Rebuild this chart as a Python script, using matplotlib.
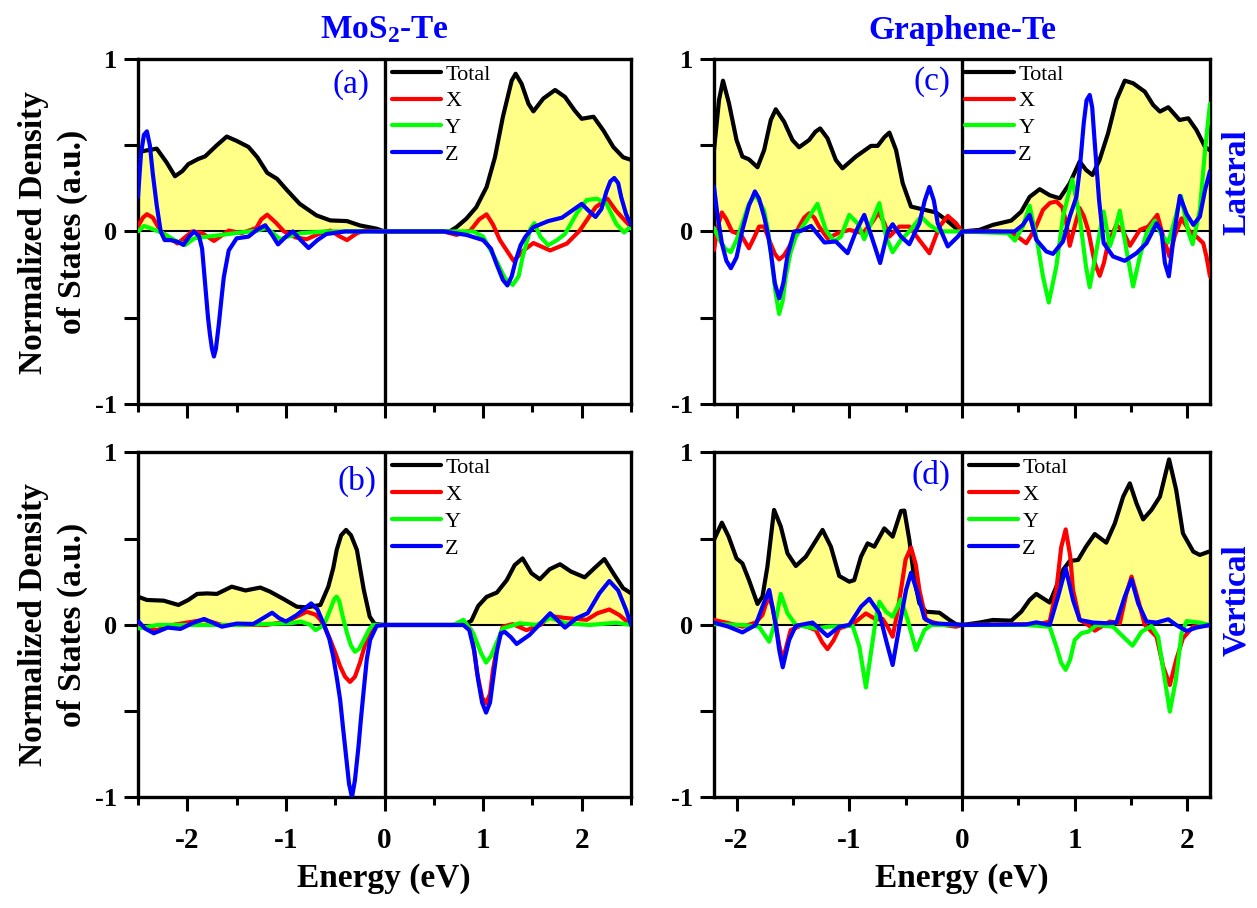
import numpy as np
import matplotlib
matplotlib.use('Agg')
import matplotlib.pyplot as plt
from matplotlib.ticker import MultipleLocator

plt.rcParams['font.family'] = 'Liberation Serif'
plt.rcParams['mathtext.fontset'] = 'custom'
plt.rcParams['mathtext.default'] = 'regular'
plt.rcParams['axes.unicode_minus'] = False

# ---- (a) MoS2-Te, lateral ----
a_tot_e = [-2.5, -2.41, -2.31, -2.21, -2.125, -2.05, -1.99, -1.89, -1.82, -1.7, -1.6, -1.5, -1.38, -1.29, -1.19, -1.09,
           -0.99, -0.86, -0.69, -0.55, -0.38, -0.25, -0.08, 0, 0.66, 0.73, 0.83, 0.93, 1.035, 1.12, 1.2, 1.29, 1.33,
           1.39, 1.46, 1.51, 1.61, 1.73, 1.83, 1.93, 2.0, 2.12, 2.22, 2.32, 2.42, 2.5]
a_tot = [0.46, 0.47, 0.48, 0.40, 0.32, 0.35, 0.39, 0.42, 0.435, 0.50, 0.55, 0.525, 0.49, 0.43, 0.34, 0.305,
         0.24, 0.16, 0.093, 0.064, 0.06, 0.035, 0.016, 0.0, 0.0, 0.025, 0.074, 0.14, 0.257, 0.43, 0.663, 0.875, 0.914,
         0.856, 0.74, 0.696, 0.77, 0.82, 0.78, 0.70, 0.653, 0.665, 0.585, 0.49, 0.43, 0.415]
a_x_e = [-2.5, -2.45, -2.41, -2.35, -2.27, -2.1, -1.95, -1.85, -1.73, -1.58, -1.45, -1.3, -1.25, -1.19, -1.1, -1.02,
         -0.9, -0.79, -0.65, -0.55, -0.45, -0.38, -0.28, -0.2, 0, 0.6, 0.73, 0.87, 0.96, 1.035, 1.1, 1.17, 1.31, 1.41,
         1.51, 1.68, 1.85, 1.98, 2.14, 2.26, 2.35, 2.5]
a_x = [0.03, 0.08, 0.1, 0.08, 0.0, -0.07, 0.0, -0.01, -0.055, 0.005, -0.01, 0.02, 0.07, 0.097, 0.05, 0.0,
       -0.035, -0.045, -0.01, 0.005, -0.03, -0.05, -0.01, 0.005, 0, 0, -0.02, 0.005, 0.07, 0.099, 0.04, -0.05, -0.171,
       -0.11, -0.067, -0.11, -0.07, 0.005, 0.14, 0.19, 0.118, 0.025]
a_y_e = [-2.5, -2.44, -2.38, -2.25, -2.1, -2.02, -1.93, -1.8, -1.65, -1.45, -1.29, -1.2, -1.13, -1.06, -0.98, -0.85,
         -0.6, 0, 0.6, 0.9, 1.0, 1.13, 1.22, 1.3, 1.36, 1.4, 1.48, 1.52, 1.58, 1.66, 1.75, 1.83, 1.95, 2.05, 2.15,
         2.25, 2.35, 2.43, 2.48, 2.5]
a_y = [0.0, 0.032, 0.02, -0.01, -0.06, -0.078, -0.04, -0.03, -0.02, -0.005, 0.005, 0.02, -0.01, -0.045, -0.03, -0.01,
       0.0, 0, 0, 0.0, -0.03, -0.165, -0.27, -0.31, -0.26, -0.15, 0.016, 0.048, -0.03, -0.08, -0.05, -0.015, 0.105,
       0.182, 0.19, 0.163, 0.044, -0.006, 0.02, 0.02]
a_z_e = [-2.5, -2.47, -2.44, -2.41, -2.38, -2.35, -2.31, -2.27, -2.23, -2.17, -2.1, -2.04, -1.98, -1.93, -1.88,
         -1.85, -1.82, -1.79, -1.77, -1.75, -1.73, -1.71, -1.68, -1.65, -1.63, -1.58, -1.5, -1.38, -1.3, -1.21, -1.14,
         -1.08, -1.0, -0.93, -0.85, -0.77, -0.68, -0.59, -0.4, 0, 0.6, 0.83, 1.0, 1.08, 1.13, 1.2, 1.246, 1.29, 1.33,
         1.38, 1.43, 1.51, 1.66, 1.8, 1.9, 2.0, 2.07, 2.14, 2.2, 2.25, 2.29, 2.33, 2.37, 2.4, 2.45, 2.5]
a_z = [0.2, 0.45, 0.56, 0.58, 0.5, 0.334, 0.15, 0.0, -0.05, -0.05, -0.06, -0.078, -0.03, 0.0, -0.03,
       -0.1, -0.3, -0.5, -0.6, -0.68, -0.725, -0.68, -0.535, -0.37, -0.265, -0.11, -0.04, -0.03, 0.007, 0.036, -0.02,
       -0.075, -0.03, 0.0, -0.05, -0.096, -0.05, -0.015, 0.0, 0, 0, -0.02, -0.05, -0.1, -0.18, -0.28, -0.313, -0.26,
       -0.17, -0.08, -0.03, 0.025, 0.06, 0.08, 0.12, 0.16, 0.12, 0.084, 0.13, 0.23, 0.29, 0.31, 0.28, 0.2, 0.1, 0.036]

# ---- (b) MoS2-Te, vertical ----
b_tot_e = [-2.5, -2.41, -2.24, -2.09, -1.99, -1.9, -1.8, -1.7, -1.55, -1.41, -1.26, -1.16, -1.02, -0.89, -0.79, -0.65,
           -0.57, -0.52, -0.485, -0.44, -0.39, -0.34, -0.28, -0.21, -0.15, -0.1, 0, 0.8, 0.88, 0.95, 1.035, 1.14,
           1.24, 1.32, 1.4, 1.49, 1.575, 1.675, 1.78, 1.89, 2.03, 2.13, 2.23, 2.32, 2.42, 2.5]
b_tot = [0.164, 0.145, 0.141, 0.116, 0.145, 0.18, 0.183, 0.18, 0.222, 0.2, 0.217, 0.193, 0.149, 0.106, 0.102, 0.116,
         0.222, 0.33, 0.435, 0.52, 0.551, 0.52, 0.435, 0.203, 0.048, 0.006, 0, 0, 0.024, 0.11, 0.163, 0.188,
         0.26, 0.347, 0.386, 0.3, 0.265, 0.323, 0.352, 0.31, 0.276, 0.33, 0.382, 0.3, 0.213, 0.184]
b_x_e = [-2.5, -2.31, -2.15, -1.83, -1.65, -1.2, -0.99, -0.85, -0.79, -0.7, -0.65, -0.6, -0.55, -0.5, -0.45, -0.4,
         -0.35, -0.3, -0.25, -0.2, -0.16, -0.1, 0, 0.7, 0.8, 0.88, 0.94, 0.99, 1.03, 1.07, 1.1, 1.15, 1.2, 1.3, 1.44,
         1.58, 1.68, 1.84, 2.05, 2.16, 2.28, 2.38, 2.5]
b_x = [0.0, -0.03, 0.0, 0.03, 0.0, 0.0, 0.02, 0.06, 0.077, 0.06, 0.03, -0.02, -0.087, -0.16, -0.24, -0.3,
       -0.33, -0.3, -0.22, -0.12, -0.068, 0.0, 0, 0, 0.02, -0.03, -0.28, -0.42, -0.454, -0.4, -0.26, -0.1, -0.01, 0.005,
       -0.03, 0.0, 0.052, 0.04, 0.03, 0.068, 0.09, 0.058, 0.0]
b_y_e = [-2.5, -2.3, -1.5, -0.95, -0.85, -0.75, -0.7, -0.64, -0.6, -0.55, -0.51, -0.485, -0.46, -0.42, -0.38, -0.34,
         -0.3, -0.26, -0.21, -0.16, -0.12, 0, 0.7, 0.8, 0.9, 0.98, 1.03, 1.08, 1.12, 1.2, 1.37, 1.54, 1.68, 1.84,
         2.08, 2.35, 2.5]
b_y = [-0.02, 0.0, 0.0, 0.01, 0.02, 0.0, -0.03, -0.01, 0.02, 0.09, 0.15, 0.164, 0.14, 0.04, -0.048, -0.12,
       -0.155, -0.14, -0.087, -0.03, 0.0, 0, 0, 0.03, -0.048, -0.164, -0.218, -0.18, -0.126, -0.02, 0.01, 0.0, 0.04,
       0.01, 0.0, 0.013, 0.0]
b_z_e = [-2.5, -2.43, -2.34, -2.2, -2.07, -1.95, -1.83, -1.65, -1.5, -1.33, -1.23, -1.14, -1.07, -1.0, -0.89, -0.8,
         -0.744, -0.68, -0.62, -0.56, -0.52, -0.48, -0.45, -0.42, -0.39, -0.36, -0.33, -0.3, -0.264, -0.24, -0.214,
         -0.18, -0.146, -0.08, 0, 0.8, 0.86, 0.91, 0.95, 0.99, 1.03, 1.07, 1.1, 1.14, 1.18, 1.22, 1.28, 1.34, 1.47,
         1.6, 1.68, 1.75, 1.83, 1.95, 2.06, 2.18, 2.28, 2.37, 2.45, 2.5]
b_z = [0.023, -0.02, -0.048, -0.015, -0.023, 0.01, 0.035, -0.01, 0.008, 0.006, 0.04, 0.071, 0.04, 0.02, 0.058, 0.1,
       0.125, 0.09, 0.01, -0.08, -0.183, -0.32, -0.434, -0.6, -0.76, -0.92, -0.999, -0.9, -0.705, -0.55, -0.396,
       -0.2, -0.087, -0.005, 0, 0, -0.03, -0.15, -0.32, -0.45, -0.508, -0.45, -0.32, -0.15, -0.048, -0.04, -0.07,
       -0.11, -0.058, 0.02, 0.068, 0.03, -0.015, 0.04, 0.068, 0.184, 0.255, 0.2, 0.087, 0.0]

# ---- (c) Graphene-Te, lateral ----
c_tot_e = [-2.2, -2.155, -2.12, -2.067, -2.0, -1.948, -1.89, -1.814, -1.755, -1.696, -1.652, -1.578, -1.504, -1.445,
           -1.356, -1.3, -1.258, -1.193, -1.119, -1.06, -0.941, -0.807, -0.748, -0.689, -0.644, -0.585, -0.526,
           -0.452, -0.348, -0.23, -0.141, -0.052, 0, 0.155, 0.274, 0.437, 0.526, 0.6, 0.689, 0.778, 0.867, 0.956,
           1.044, 1.1, 1.157, 1.22, 1.296, 1.37, 1.444, 1.518, 1.622, 1.696, 1.756, 1.83, 1.93, 2.007, 2.08, 2.156, 2.2]
c_tot = [0.47, 0.763, 0.874, 0.743, 0.53, 0.434, 0.418, 0.372, 0.472, 0.646, 0.708, 0.636, 0.53, 0.488,
         0.53, 0.578, 0.597, 0.54, 0.414, 0.366, 0.434, 0.496, 0.496, 0.546, 0.573, 0.472, 0.28,
         0.144, 0.128, 0.11, 0.067, 0.018, 0.0, 0.009, 0.038, 0.063, 0.115, 0.2, 0.245, 0.21, 0.192, 0.279,
         0.405, 0.357, 0.327, 0.414, 0.569, 0.762, 0.874, 0.859, 0.81, 0.733, 0.695, 0.72, 0.646, 0.656, 0.588, 0.49, 0.47]
c_x_e = [-2.2, -2.17, -2.13, -2.09, -2.04, -1.96, -1.89, -1.84, -1.8, -1.755, -1.71, -1.66, -1.622, -1.58, -1.533,
         -1.445, -1.4, -1.356, -1.31, -1.267, -1.193, -1.089, -1.0, -0.881, -0.8, -0.74, -0.69, -0.644, -0.556,
         -0.467, -0.378, -0.289, -0.2, -0.126, -0.052, 0, 0.155, 0.3, 0.452, 0.57, 0.644, 0.718, 0.78, 0.837, 0.89,
         0.926, 0.956, 1.0, 1.044, 1.08, 1.119, 1.178, 1.222, 1.26, 1.296, 1.37, 1.43, 1.49, 1.578, 1.652, 1.733,
         1.785, 1.84, 1.89, 1.948, 2.02, 2.08, 2.14, 2.17, 2.2]
c_x = [-0.107, 0.02, 0.11, 0.07, 0.0, -0.02, -0.097, -0.03, 0.028, 0.028, -0.05, -0.13, -0.162, -0.14, -0.09,
       0.028, 0.08, 0.105, 0.08, 0.028, -0.04, -0.007, 0.009, -0.01, 0.05, 0.11, 0.05, -0.03, 0.028,
       0.028, -0.05, -0.126, 0.028, 0.09, 0.047, 0.0, 0.0, 0.0, -0.01, -0.068, 0.009, 0.125, 0.165, 0.174, 0.14,
       0.047, -0.083, 0.03, 0.135, 0.09, 0.009, -0.183, -0.257, -0.18, -0.068, 0.038, 0.0, -0.083, 0.009, 0.028, 0.096,
       -0.03, -0.145, -0.02, 0.076, 0.0, -0.03, -0.068, -0.15, -0.26]
c_y_e = [-2.2, -2.15, -2.1, -2.05, -2.0, -1.948, -1.89, -1.83, -1.755, -1.72, -1.69, -1.655, -1.622, -1.59, -1.563,
         -1.52, -1.474, -1.385, -1.282, -1.208, -1.133, -1.074, -1.0, -0.926, -0.867, -0.807, -0.733, -0.674, -0.615,
         -0.541, -0.467, -0.363, -0.289, -0.2, 0, 0.407, 0.47, 0.54, 0.6, 0.67, 0.718, 0.77, 0.837, 0.896, 0.978,
         1.044, 1.1, 1.133, 1.193, 1.257, 1.311, 1.346, 1.4, 1.459, 1.518, 1.578, 1.637, 1.711, 1.77, 1.83, 1.889,
         1.942, 2.007, 2.046, 2.11, 2.156, 2.2]
c_y = [0.02, -0.05, -0.1, -0.12, -0.05, 0.047, 0.16, 0.214, 0.12, 0.0, -0.15, -0.35, -0.478, -0.4, -0.262,
       -0.12, -0.03, 0.057, 0.16, 0.009, -0.058, -0.03, 0.096, 0.047, -0.045, 0.047, 0.164, -0.03, -0.12,
       -0.048, 0.0, 0.086, 0.038, 0.0, 0.0, -0.01, -0.053, 0.03, 0.149, -0.068, -0.26, -0.412, -0.203, 0.086, 0.302,
       0.086, -0.203, -0.323, -0.107, 0.115, -0.087, -0.02, 0.12, -0.107, -0.319, -0.145, -0.01, 0.063, -0.02, -0.064,
       0.07, 0.206, 0.0, -0.074, 0.125, 0.47, 0.74]
c_z_e = [-2.2, -2.17, -2.13, -2.09, -2.05, -2.0, -1.948, -1.89, -1.837, -1.8, -1.755, -1.72, -1.696, -1.66, -1.622,
         -1.585, -1.548, -1.489, -1.43, -1.34, -1.22, -1.119, -1.015, -0.941, -0.867, -0.793, -0.726, -0.659, -0.615,
         -0.541, -0.467, -0.378, -0.33, -0.289, -0.25, -0.215, -0.126, -0.037, 0, 0.467, 0.54, 0.6, 0.659, 0.748,
         0.807, 0.896, 0.956, 1.015, 1.044, 1.08, 1.105, 1.133, 1.155, 1.178, 1.216, 1.257, 1.34, 1.444, 1.548, 1.637,
         1.726, 1.77, 1.8, 1.835, 1.88, 1.933, 1.993, 2.052, 2.11, 2.156, 2.2]
c_z = [0.26, 0.1, -0.068, -0.17, -0.213, -0.15, 0.009, 0.15, 0.232, 0.19, 0.086, -0.02, -0.12, -0.3, -0.388,
       -0.3, -0.14, 0.0, 0.003, 0.032, -0.064, -0.058, -0.126, 0.0, 0.096, -0.048, -0.183, 0.0, 0.042,
       -0.03, -0.074, 0.047, 0.18, 0.258, 0.18, 0.047, -0.087, -0.03, 0.0, 0.0, 0.038, 0.096, -0.048, -0.116,
       -0.13, -0.058, 0.086, 0.2, 0.357, 0.627, 0.76, 0.791, 0.72, 0.511, 0.182, -0.068, -0.145, -0.17, -0.126, -0.068,
       0.047, 0.0, -0.183, -0.26, -0.02, 0.206, 0.1, 0.038, 0.086, 0.24, 0.35]

# ---- (d) Graphene-Te, vertical ----
d_tot_e = [-2.2, -2.13, -2.07, -2.0, -1.948, -1.89, -1.814, -1.77, -1.726, -1.667, -1.607, -1.548, -1.474, -1.385,
           -1.237, -1.163, -1.089, -1.0, -0.956, -0.896, -0.837, -0.778, -0.689, -0.615, -0.541, -0.511, -0.467,
           -0.422, -0.378, -0.319, -0.2, -0.111, -0.052, 0, 0.156, 0.274, 0.437, 0.526, 0.6, 0.659, 0.718, 0.778,
           0.837, 0.896, 0.956, 1.03, 1.1, 1.178, 1.28, 1.356, 1.43, 1.489, 1.548, 1.607, 1.681, 1.756, 1.837, 1.9,
           1.96, 2.052, 2.11, 2.19, 2.2]
d_tot = [0.493, 0.593, 0.512, 0.386, 0.357, 0.261, 0.122, 0.164, 0.338, 0.667, 0.57, 0.415, 0.342, 0.396,
         0.551, 0.454, 0.284, 0.251, 0.26, 0.396, 0.473, 0.454, 0.56, 0.512, 0.661, 0.663, 0.493,
         0.261, 0.126, 0.077, 0.071, 0.029, 0.004, 0.0, 0.014, 0.029, 0.025, 0.077, 0.145, 0.18, 0.155, 0.13,
         0.222, 0.319, 0.371, 0.377, 0.454, 0.527, 0.477, 0.589, 0.744, 0.821, 0.705, 0.612, 0.667, 0.744, 0.96, 0.783,
         0.531, 0.425, 0.406, 0.425, 0.425]
d_x_e = [-2.2, -2.07, -1.948, -1.83, -1.77, -1.74, -1.71, -1.68, -1.65, -1.62, -1.59, -1.56, -1.52, -1.415, -1.296,
         -1.24, -1.193, -1.14, -1.089, -0.97, -0.852, -0.763, -0.704, -0.66, -0.615, -0.58, -0.541, -0.5, -0.452,
         -0.41, -0.378, -0.319, -0.2, -0.052, 0, 0.689, 0.778, 0.837, 0.88, 0.92, 0.96, 0.985, 1.044, 1.119, 1.178,
         1.311, 1.4, 1.459, 1.504, 1.563, 1.622, 1.726, 1.785, 1.844, 1.9, 1.96, 2.05, 2.2]
d_x = [0.029, 0.01, -0.01, 0.014, 0.058, 0.12, 0.164, 0.1, 0.0, -0.12, -0.203, -0.13, -0.03, 0.0, -0.03,
       -0.1, -0.14, -0.09, -0.02, 0.005, 0.067, 0.032, 0.035, -0.01, -0.068, 0.05, 0.203, 0.38, 0.449,
       0.35, 0.203, 0.029, 0.004, -0.01, 0.0, 0.005, 0.02, 0.203, 0.45, 0.554, 0.4, 0.203, 0.03, 0.0, -0.033,
       0.02, 0.01, 0.184, 0.28, 0.145, 0.0, -0.068, -0.242, -0.348, -0.203, -0.077, -0.01, 0.0]
d_y_e = [-2.2, -1.948, -1.8, -1.71, -1.65, -1.607, -1.548, -1.474, -1.296, -1.178, -0.97, -0.91, -0.852, -0.8, -0.76,
         -0.733, -0.674, -0.615, -0.541, -0.482, -0.408, -0.333, -0.274, 0, 0.57, 0.778, 0.837, 0.88, 0.92, 0.96,
         1.0, 1.059, 1.119, 1.193, 1.34, 1.43, 1.513, 1.593, 1.681, 1.74, 1.8, 1.844, 1.897, 1.948, 1.993, 2.11, 2.2]
d_y = [0.005, 0.0, -0.01, -0.097, 0.03, 0.18, 0.068, 0.0, -0.02, -0.01, -0.005, -0.126, -0.362, -0.126, 0.05,
       0.135, 0.077, 0.048, 0.148, 0.03, -0.145, -0.03, 0.0, 0.0, 0.0, -0.01, -0.126, -0.22, -0.26, -0.2,
       -0.087, -0.048, -0.039, 0.0, -0.01, -0.068, -0.12, -0.039, -0.006, -0.068, -0.319, -0.502, -0.319, -0.048,
       0.023, 0.013, 0.0]
d_z_e = [-2.2, -2.07, -1.948, -1.83, -1.77, -1.71, -1.68, -1.65, -1.62, -1.59, -1.56, -1.533, -1.474, -1.326, -1.193,
         -1.089, -1.0, -0.896, -0.822, -0.733, -0.674, -0.615, -0.556, -0.496, -0.452, -0.393, -0.333, -0.259, 0,
         0.57, 0.659, 0.778, 0.852, 0.92, 0.985, 1.044, 1.163, 1.28, 1.37, 1.444, 1.504, 1.563, 1.637, 1.726, 1.83,
         1.9, 1.993, 2.08, 2.2]
d_z = [0.014, -0.01, -0.043, 0.0, 0.106, 0.203, 0.1, -0.01, -0.15, -0.245, -0.16, -0.087, -0.005, 0.014, -0.064,
       -0.01, 0.0, 0.106, 0.152, 0.068, -0.087, -0.232, -0.01, 0.203, 0.303, 0.184, 0.038, 0.01, 0.0,
       0.003, 0.015, 0.0, 0.164, 0.329, 0.145, 0.029, 0.014, 0.01, 0.014, 0.164, 0.264, 0.125, 0.02, 0.014, 0.033,
       0.0, -0.035, -0.015, 0.0]

names = ['Total', 'X', 'Y', 'Z']
colors = ['black', '#ff0000', '#00ff00', '#0000ff']
label_blue = '#0000ff'


def draw_panel(ax, curves, xmax, tag, tag_xy, leg_x):
    tot_e, tot_v = curves[0]
    ax.fill_between(tot_e, tot_v, 0, color='#ffff88', lw=0, zorder=1)
    ax.axhline(0, color='black', lw=1.5, zorder=2)
    ax.axvline(0, color='black', lw=2.4, zorder=2)
    for (e, v), c, n in zip(curves, colors, names):
        ax.plot(e, v, color=c, lw=3.0, label=n, zorder=3, solid_joinstyle='round', solid_capstyle='round')

    ax.set_xlim(-xmax, xmax)
    ax.set_ylim(-1, 1)
    ax.set_yticks([-1, -0.5, 0, 0.5, 1])
    ax.set_yticklabels(['-1', '', '0', '', '1'])
    ax.xaxis.set_major_locator(MultipleLocator(1))
    ax.xaxis.set_minor_locator(MultipleLocator(0.5))
    ax.tick_params(axis='both', which='major', direction='out', length=10, width=2.2)
    ax.tick_params(axis='x', which='minor', direction='out', length=6, width=2.2)
    ax.tick_params(axis='y', labelsize=19, pad=5)
    ax.tick_params(axis='x', labelsize=21, pad=11)
    for lab in ax.get_xticklabels() + ax.get_yticklabels():
        lab.set_fontweight('bold')
    for s in ax.spines.values():
        s.set_linewidth(2.4)

    ax.text(tag_xy[0], tag_xy[1], tag, transform=ax.transAxes, ha='center', va='center',
            fontsize=24, color=label_blue)
    ax.legend(loc='upper left', bbox_to_anchor=(leg_x, 0.985), frameon=False, fontsize=16,
              handlelength=2.2, handletextpad=0.2, labelspacing=0.28, borderpad=0, borderaxespad=0)


fig = plt.figure(figsize=(12.57, 9.08), dpi=100)
ax_a = fig.add_axes([0.1098, 0.5551, 0.3922, 0.3800])
ax_b = fig.add_axes([0.1098, 0.1217, 0.3922, 0.3800])
ax_c = fig.add_axes([0.5680, 0.5551, 0.3946, 0.3800])
ax_d = fig.add_axes([0.5680, 0.1217, 0.3946, 0.3800])

draw_panel(ax_a, [(a_tot_e, a_tot), (a_x_e, a_x), (a_y_e, a_y), (a_z_e, a_z)], 2.5, '(a)', (0.433, 0.925), 0.515)
draw_panel(ax_b, [(b_tot_e, b_tot), (b_x_e, b_x), (b_y_e, b_y), (b_z_e, b_z)], 2.5, '(b)', (0.444, 0.915), 0.515)
draw_panel(ax_c, [(c_tot_e, c_tot), (c_x_e, c_x), (c_y_e, c_y), (c_z_e, c_z)], 2.2, '(c)', (0.44, 0.934), 0.506)
draw_panel(ax_d, [(d_tot_e, d_tot), (d_x_e, d_x), (d_y_e, d_y), (d_z_e, d_z)], 2.2, '(d)', (0.438, 0.935), 0.514)

# only bottom row carries tick labels on x
ax_a.tick_params(axis='x', labelbottom=False)
ax_c.tick_params(axis='x', labelbottom=False)

W, H = 1257.0, 908.0
fig.text(384 / W, 1 - 30 / H, 'MoS$_2$-Te', ha='center', va='center', fontsize=24,
         fontweight='bold', color=label_blue)
fig.text(962 / W, 1 - 30 / H, 'Graphene-Te', ha='center', va='center', fontsize=24,
         fontweight='bold', color=label_blue)
fig.text(1237 / W, 1 - 182 / H, 'Lateral', ha='center', va='center', rotation=90, fontsize=24,
         fontweight='bold', color=label_blue)
fig.text(1237 / W, 1 - 600 / H, 'Vertical', ha='center', va='center', rotation=90, fontsize=24,
         fontweight='bold', color=label_blue)
for yc in (232, 625):
    fig.text(53 / W, 1 - yc / H, 'Normalized Density\nof States (a.u.)', ha='center', va='center',
             rotation=90, fontsize=24, fontweight='bold', linespacing=1.3)
for xc in (384, 962):
    fig.text(xc / W, 1 - 878 / H, 'Energy (eV)', ha='center', va='center', fontsize=24, fontweight='bold')

fig.savefig('out.png', dpi=100)
